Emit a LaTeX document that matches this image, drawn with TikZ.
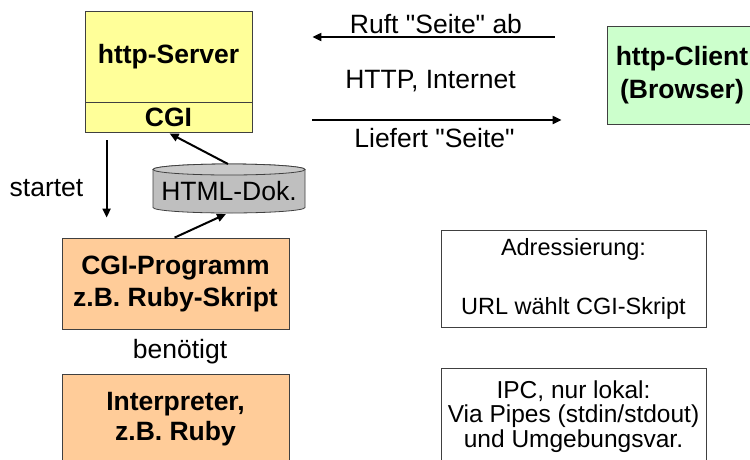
\documentclass[tikz,border=0pt]{standalone}
\usepackage{fontspec}
\setmainfont{Liberation Sans}[Ligatures=TeXOff]
\usetikzlibrary{arrows.meta,calc}
\definecolor{srvyellow}{HTML}{FFFF99}
\definecolor{peach}{HTML}{FFCC99}
\definecolor{mint}{HTML}{CCFFCC}
\definecolor{cylgray}{HTML}{BFBFBF}
\definecolor{edge}{HTML}{404040}
\begin{document}
\begin{tikzpicture}[x=1pt,y=-1pt,
  box/.style={draw=edge,line width=0.8pt,inner sep=0pt,align=center},
  boldtxt/.style={font=\fontsize{26.5}{32}\selectfont\bfseries},
  arr/.style={line width=2pt,-{Triangle[length=9pt,width=8pt]}},
  lbl/.style={inner sep=0pt,font=\fontsize{26.5}{32}\selectfont}]
\useasboundingbox (0,0) rectangle (750,459);
\clip (0,0) rectangle (750,459);
\fill[white] (0,0) rectangle (750,459);
% server
\node[box,fill=srvyellow,minimum width=167pt,minimum height=91pt,boldtxt] (server) at (168.5,56.5) {http-Server};
\node[box,fill=srvyellow,minimum width=167pt,minimum height=30pt,boldtxt] (cgi) at (168.5,117) {CGI};
% client
\node[box,fill=mint,minimum width=150pt,minimum height=98pt,font=\fontsize{26.5}{33}\selectfont\bfseries] (client) at (682,75) {http-Client\\(Browser)};
% programm & interpreter
\node[box,fill=peach,minimum width=227pt,minimum height=91pt,boldtxt] (prog) at (175.5,283.5) {CGI-Programm\\z.B. Ruby-Skript};
\node[box,fill=peach,minimum width=227pt,minimum height=91pt,font=\fontsize{26.5}{30}\selectfont\bfseries] (interp) at (175.5,419.5) {Interpreter,\\z.B. Ruby};
% right boxes
\node[box,fill=white,minimum width=265pt,minimum height=97pt,font=\fontsize{23.5}{30}\selectfont] (addr) at (573.5,278.5) {Adressierung:\\[29pt]URL wählt CGI-Skript};
\node[box,fill=white,minimum width=265pt,minimum height=97pt,font=\fontsize{24.5}{24.5}\selectfont] (ipc) at (573.5,416.5) {IPC, nur lokal:\\Via Pipes (stdin/stdout)\\und Umgebungsvar.};
% cylinder
\draw[edge,line width=0.8pt,fill=cylgray] (153,169.5) -- (153,207.5)
  arc[start angle=180,end angle=360,x radius=76pt,y radius=5.5pt]
  -- (305,169.5)
  arc[start angle=0,end angle=180,x radius=76pt,y radius=5.5pt] -- cycle;
\draw[edge,line width=0.8pt,fill=cylgray!85!white] (229,169.5) ellipse[x radius=76pt,y radius=5.5pt];
\node[lbl] (dok) at (229,191) {HTML-Dok.};
\coordinate (cyltop) at (228,164);
\coordinate (cylbot) at (226,214);
% labels
\node[lbl] (ruft) at (436,24) {Ruft "Seite" ab};
\node[lbl] (http) at (430.5,81) {HTTP, Internet};
\node[lbl] (liefert) at (434.5,138) {Liefert "Seite"};
\node[lbl] (startet) at (46.5,188) {startet};
\node[lbl] (benoetigt) at (180,352) {benötigt};
% arrows
\coordinate (r1) at ($(client.west |- 0,37)+(-52,0)$);
\coordinate (r2) at ($(server.east |- 0,37)+(60,0)$);
\draw[arr] (r1) -- (r2);
\coordinate (l1) at ($(server.east |- 0,120)+(60,0)$);
\coordinate (l2) at ($(client.west |- 0,120)+(-45,0)$);
\draw[arr] (l1) -- (l2);
\draw[arr] ($(cgi.south west)+(22,8)$) -- ($(prog.north west)+(45,-20)$);
\draw[arr] (cyltop) -- ($(cgi.south west)+(85,1)$);
\draw[arr] ($(prog.north west)+(113,0)$) -- (cylbot);
\end{tikzpicture}
\end{document}
